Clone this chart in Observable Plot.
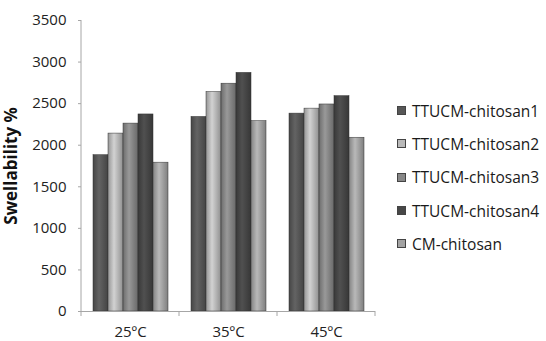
<!DOCTYPE html>
<html><head><meta charset="utf-8">
<script src="https://cdn.jsdelivr.net/npm/d3@7"></script>
<script src="https://cdn.jsdelivr.net/npm/@observablehq/plot@0.6"></script>
<style>
body{margin:0;background:#fff;}
#wrap{position:relative;width:546px;height:341px;font-family:"Open Sans",sans-serif;}
#legend{position:absolute;left:397px;top:94px;}
.item{display:flex;align-items:center;height:33.3px;font-size:15.5px;color:#1a1a1a;white-space:nowrap;}
.sw{width:7px;height:7px;margin-right:6px;border:1px solid #444;}
</style></head><body><div id="wrap"><div id="legend"></div></div>
<script>
const temps = ["25ºC", "35ºC", "45ºC"];
const series = ["TTUCM-chitosan1", "TTUCM-chitosan2", "TTUCM-chitosan3", "TTUCM-chitosan4", "CM-chitosan"];
const chitosan1 = [1880, 2340, 2380];
const chitosan2 = [2140, 2640, 2440];
const chitosan3 = [2260, 2740, 2490];
const chitosan4 = [2370, 2870, 2590];
const cmChitosan = [1790, 2290, 2090];
const yTicks = [0, 500, 1000, 1500, 2000, 2500, 3000, 3500];
const colors = ["#575757", "#b9b9b9", "#878787", "#474747", "#a3a3a3"];

const values = [chitosan1, chitosan2, chitosan3, chitosan4, cmChitosan];
const rows = temps.flatMap((t, i) => series.map((s, j) => ({temp: t, series: s, value: values[j][i]})));

const plot = Plot.plot({
  width: 546, height: 341,
  marginLeft: 80, marginRight: 171, marginTop: 20, marginBottom: 30,
  style: {fontFamily: "Open Sans, sans-serif", fontSize: "15px", color: "#222", background: "transparent"},
  fx: {domain: temps, padding: 0, label: null},
  x: {domain: series, paddingInner: 0.03, paddingOuter: 0.7, axis: null},
  y: {domain: [0, 3500], label: null},
  color: {domain: series, range: series.map((_, j) => `url(#grad${j})`)},
  marks: [
    Plot.barY(rows, {fx: "temp", x: "series", y: "value", fill: "series", stroke: "#333", strokeWidth: 0.5}),
    Plot.ruleY([0], {stroke: "#a6a6a6", strokeWidth: 1}),
    Plot.axisY({ticks: yTicks, tickSize: 3, tickPadding: 12, stroke: "#a6a6a6", fontSize: 15, tickFormat: d => String(d),
      label: "Swellability %", labelAnchor: "center", labelOffset: 77, labelArrow: false}),
    Plot.axisFx({anchor: "bottom", tickSize: 0, tickPadding: 15, fontSize: 15, label: null})
  ]
});

const svg = d3.select(plot.tagName === "svg" ? plot : plot.querySelector("svg"));
const defs = svg.insert("defs", ":first-child");
colors.forEach((c, j) => {
  const base = d3.color(c);
  const g = defs.append("linearGradient").attr("id", `grad${j}`).attr("x1", "0").attr("x2", "1").attr("y1", "0").attr("y2", "0");
  g.append("stop").attr("offset", "0%").attr("stop-color", base.darker(0.6));
  g.append("stop").attr("offset", "40%").attr("stop-color", base.brighter(0.35));
  g.append("stop").attr("offset", "100%").attr("stop-color", base.darker(0.7));
});

const fx = plot.scale("fx"), y = plot.scale("y");
const y0 = y.apply(0), y1 = y.apply(3500);
const x0 = fx.apply(temps[0]);
svg.append("line").attr("x1", x0).attr("x2", x0).attr("y1", y1).attr("y2", y0).attr("stroke", "#a6a6a6");
const bounds = temps.map(t => fx.apply(t)).concat([fx.apply(temps[temps.length - 1]) + fx.bandwidth]);
bounds.forEach(b => svg.append("line").attr("x1", b).attr("x2", b).attr("y1", y0).attr("y2", y0 + 5).attr("stroke", "#a6a6a6"));
svg.selectAll("[aria-label='y-axis label'] text, [aria-label='y-axis label']").attr("font-weight", "bold").attr("font-size", "17px").attr("fill", "#111");

document.getElementById("wrap").prepend(plot);
plot.style.position = "absolute"; plot.style.left = "0"; plot.style.top = "0";

const legend = d3.select("#legend");
series.forEach((s, j) => {
  const it = legend.append("div").attr("class", "item");
  it.append("div").attr("class", "sw").style("background", colors[j]);
  it.append("span").text(s);
});
</script></body></html>
